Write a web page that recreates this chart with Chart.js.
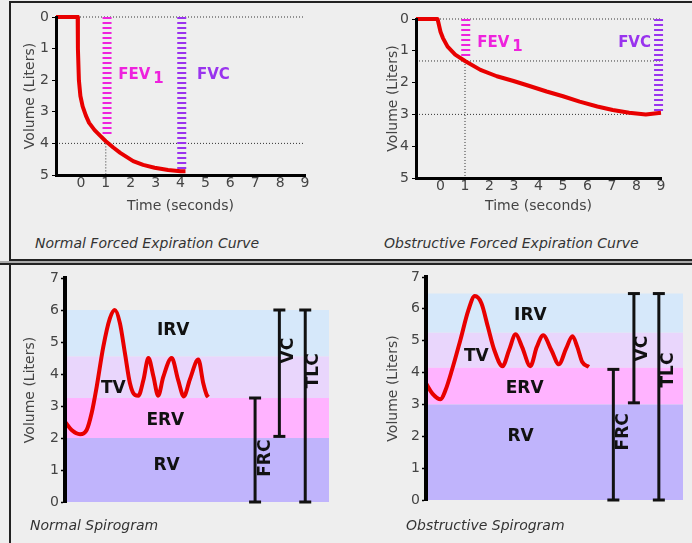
<!DOCTYPE html>
<html>
<head>
<meta charset="utf-8">
<script src="https://cdn.jsdelivr.net/npm/chart.js@4.4.0/dist/chart.umd.min.js"></script>
<style>
  html, body { margin: 0; padding: 0; }
  body { width: 692px; height: 543px; background: #eeeeee; position: relative; overflow: hidden; font-family: "DejaVu Sans", sans-serif; }
  canvas { position: absolute; }
  .cap { position: absolute; font-style: italic; font-size: 14px; color: #333; white-space: nowrap; line-height: 17px; }
  .rule { position: absolute; background: #222; }
</style>
</head>
<body>
<div class="rule" style="left:9px;top:1px;width:683px;height:2px"></div>
<div class="rule" style="left:9px;top:1px;width:2px;height:259px"></div>
<div class="rule" style="left:9px;top:259px;width:683px;height:2px"></div>
<div style="position:absolute;left:0;top:261px;width:692px;height:2px;background:#aaa"></div>
<div class="rule" style="left:0;top:263px;width:692px;height:2px"></div>
<div class="rule" style="left:9px;top:265px;width:2px;height:278px"></div>

<canvas id="normCurve" width="346" height="220" style="left:0;top:0"></canvas>
<canvas id="obsCurve" width="346" height="220" style="left:346px;top:0"></canvas>
<canvas id="normSpiro" width="346" height="277" style="left:0;top:266px"></canvas>
<canvas id="obsSpiro" width="346" height="277" style="left:346px;top:266px"></canvas>

<div class="cap" style="left:35px;top:235px">Normal Forced Expiration Curve</div>
<div class="cap" style="left:384px;top:235px">Obstructive Forced Expiration Curve</div>
<div class="cap" style="left:30px;top:517px">Normal Spirogram</div>
<div class="cap" style="left:406px;top:517px">Obstructive Spirogram</div>

<script>
// ---- forced expiration curves (time in s, volume expired in L)
const normTime = [-1, -0.13, -0.12, -0.08, -0.02, 0.07, 0.2, 0.33, 0.55, 0.79, 1.0, 1.3, 1.58, 2.1, 2.5, 2.96, 3.5, 4.0, 4.2];
const normVol  = [0, 0, 1.0, 2.0, 2.5, 2.83, 3.12, 3.35, 3.58, 3.77, 3.93, 4.13, 4.3, 4.56, 4.68, 4.77, 4.84, 4.88, 4.88];
const obsTime  = [-1, -0.12, 0.0, 0.1, 0.29, 0.6, 1.0, 1.63, 2.3, 2.98, 3.6, 4.33, 5.0, 5.68, 6.4, 7.03, 7.7, 8.38, 9.0];
const obsVol   = [0, 0, 0.4, 0.6, 0.87, 1.12, 1.32, 1.6, 1.8, 1.95, 2.1, 2.28, 2.43, 2.6, 2.75, 2.86, 2.95, 3.0, 2.95];

// FEV1 / FVC markers: time, volume reached
const normMarkTime = [1.05, 4.05];
const normMarkVol  = [3.8, 4.9];
const obsMarkTime  = [1.03, 8.9];
const obsMarkVol   = [1.2, 2.9];

// dotted guides
const normGuideX = [[-1, 9], [-1, 9], [1, 1]];
const normGuideY = [[0, 0], [4, 4], [4, 5]];
const obsGuideX  = [[-1, 9], [-1, 9], [-1, 9], [1, 1]];
const obsGuideY  = [[0, 0], [1.32, 1.32], [3, 3], [1.32, 5]];

// ---- spirograms (arbitrary time, volume in L)
const normSpiroT = [0, 2.5, 5.7, 8.2, 10.1, 12, 14.5, 17, 18.9, 20.8, 22.7, 24.6, 26.5, 27.8, 29.7, 31.6, 33.5, 35.3, 37.2, 40.4, 42.9, 45, 47.3, 50.5, 52.4, 53.7, 54.3];
const normSpiroV = [2.51, 2.25, 2.12, 2.25, 2.78, 3.6, 4.85, 5.74, 6.0, 5.59, 4.65, 3.71, 3.34, 3.32, 3.81, 4.5, 3.92, 3.32, 3.9, 4.5, 3.8, 3.3, 3.83, 4.45, 3.7, 3.34, 3.28];
const obsSpiroT  = [0, 2.5, 5.7, 7.6, 10.1, 13.3, 16.5, 19, 21.6, 24.1, 26.6, 29.8, 32.3, 34.9, 37.4, 40.6, 43.1, 45.6, 48.8, 51.7, 54.5, 57, 58.9, 60.8, 63.4];
const obsSpiroV  = [3.66, 3.34, 3.16, 3.45, 4.08, 5.0, 5.96, 6.4, 6.17, 5.43, 4.7, 4.2, 4.7, 5.2, 4.8, 4.2, 4.8, 5.17, 4.7, 4.26, 4.75, 5.14, 4.8, 4.33, 4.18];

// lung volume bands: RV, ERV, TV, IRV (upper limits)
const bandNames    = ['RV', 'ERV', 'TV', 'IRV'];
const normBandTops = [2.0, 3.25, 4.55, 6.0];
const obsBandTops  = [3.0, 4.15, 5.25, 6.48];

// capacity brackets: FRC, VC, TLC
const capNames    = ['FRC', 'VC', 'TLC'];
const normCapX    = [72, 81.2, 91];
const normCapLow  = [0, 2.05, 0];
const normCapHigh = [3.25, 6.0, 6.0];
const obsCapX     = [72.9, 80.9, 90.6];
const obsCapLow   = [0, 3.05, 0];
const obsCapHigh  = [4.1, 6.48, 6.48];

// label anchors
const normBandLabelX = [38.5, 38, 18.3, 41];
const normBandLabelY = [1.15, 2.55, 3.55, 5.37];
const obsBandLabelX  = [36.8, 38.4, 19.6, 40.6];
const obsBandLabelY  = [1.98, 3.5, 4.49, 5.8];
const normCapLabelX  = [75.8, 84.5, 94.3];
const normCapLabelY  = [1.37, 4.73, 4.1];
const obsCapLabelX   = [76.7, 84.3, 94.4];
const obsCapLabelY   = [2.14, 4.75, 4.08];

const RED = '#e80000';
const FEV_COLOR = '#ee22dd';
const FVC_COLOR = '#9933ee';
const bandColors = ['#c0b4fc', '#ffb3ff', '#e9d6fc', '#d6e8fa'];

const pts = (xs, ys) => xs.map((x, i) => ({x: x, y: ys[i]}));

const markPlugin = {
  id: 'marks',
  afterDatasetsDraw(chart, args, opts) {
    const ctx = chart.ctx;
    const xs = chart.scales.x, ys = chart.scales.y;
    (opts.items || []).forEach(m => {
      ctx.save();
      ctx.font = m.font;
      ctx.fillStyle = m.color;
      ctx.textAlign = m.align || 'center';
      ctx.textBaseline = 'middle';
      ctx.translate(xs.getPixelForValue(m.x), ys.getPixelForValue(m.y));
      if (m.rotate) ctx.rotate(-Math.PI / 2);
      ctx.fillText(m.text, 0, 0);
      if (m.sub) {
        const w = ctx.measureText(m.text).width;
        ctx.textAlign = 'left';
        ctx.fillText(m.sub, m.align === 'left' ? w + 3 : w / 2 + 3, 4);
      }
      ctx.restore();
    });
  }
};

function guideSets(gx, gy) {
  return gx.map((xs, i) => ({
    data: pts(xs, gy[i]), borderColor: '#333', borderWidth: 1, borderDash: [1, 2],
    pointRadius: 0, clip: false, order: 3
  }));
}

function markSets(mt, mv) {
  const colors = [FEV_COLOR, FVC_COLOR];
  return mt.map((t, i) => ({
    data: [{x: t, y: 0}, {x: t, y: mv[i]}], borderColor: colors[i], borderWidth: 9,
    borderDash: [2, 3], borderCapStyle: 'butt', pointRadius: 0, clip: false, order: 2
  }));
}

function curveChart(id, t, v, mt, mv, gx, gy, lay, labels) {
  new Chart(document.getElementById(id), {
    type: 'line',
    data: {
      datasets: [
        {data: pts(t, v), borderColor: RED, borderWidth: 4, pointRadius: 0, tension: 0,
         borderJoinStyle: 'round', clip: false, order: 0}
      ].concat(markSets(mt, mv), guideSets(gx, gy))
    },
    options: {
      responsive: false, animation: false, events: [],
      layout: {padding: {left: lay.left, top: lay.top, right: lay.right, bottom: 0}},
      plugins: {legend: {display: false}, tooltip: {enabled: false}, marks: {items: labels}},
      scales: {
        x: {
          type: 'linear', min: -1, max: 9,
          afterFit: s => { s.height = lay.xh; },
          ticks: {stepSize: 1, autoSkip: false, maxRotation: 0, padding: 0, color: '#444',
                  font: {size: 14, family: 'DejaVu Sans'}, callback: val => (val < 0 ? '' : val)},
          grid: {display: false, drawTicks: false},
          border: {color: '#000', width: 3, z: 1},
          title: {display: true, text: 'Time (seconds)', color: '#444',
                  font: {size: 14, family: 'DejaVu Sans'}, padding: {top: 0, bottom: 5}}
        },
        y: {
          type: 'linear', min: 0, max: 5, reverse: true,
          afterFit: s => { s.width = lay.yw; },
          ticks: {stepSize: 1, padding: 3, color: '#444', font: {size: 14, family: 'DejaVu Sans'}},
          grid: {display: true, drawOnChartArea: false, drawTicks: true, tickLength: 4, color: '#000', tickWidth: 1},
          border: {color: '#000', width: 3, z: 1},
          title: {display: true, text: 'Volume (Liters)', color: '#444',
                  font: {size: 14, family: 'DejaVu Sans'}, padding: {top: 2, bottom: 0}}
        }
      }
    },
    plugins: [markPlugin]
  });
}

function spiroChart(id, t, v, tops, cx, clo, chi, lay, labels) {
  const bands = tops.map((top, i) => ({
    data: [{x: 0, y: top}, {x: 100, y: top}], borderWidth: 0, pointRadius: 0,
    backgroundColor: bandColors[i], fill: {value: i === 0 ? 0 : tops[i - 1]}, order: 10
  }));
  const caps = cx.map((x, i) => ({
    data: [{x: x, y: clo[i]}, {x: x, y: chi[i]}], borderColor: '#111', borderWidth: 3,
    pointStyle: 'line', pointRadius: 6, pointBorderWidth: 3, pointBorderColor: '#111',
    clip: false, order: 1
  }));
  new Chart(document.getElementById(id), {
    type: 'line',
    data: {
      datasets: [
        {data: pts(t, v), borderColor: RED, borderWidth: 4, pointRadius: 0,
         cubicInterpolationMode: 'monotone', borderJoinStyle: 'round', clip: false, order: 0}
      ].concat(caps, bands)
    },
    options: {
      responsive: false, animation: false, events: [],
      layout: {padding: {left: lay.left, top: lay.top, right: lay.right, bottom: lay.bottom}},
      plugins: {legend: {display: false}, tooltip: {enabled: false}, marks: {items: labels}},
      scales: {
        x: {type: 'linear', min: 0, max: 100, display: false},
        y: {
          type: 'linear', min: 0, max: 7,
          afterFit: s => { s.width = lay.yw; },
          ticks: {stepSize: 1, padding: 2, color: '#444', font: {size: 14, family: 'DejaVu Sans'}},
          grid: {display: true, drawOnChartArea: false, drawTicks: true, tickLength: 4, color: '#000', tickWidth: 1.5},
          border: {color: '#000', width: 4, z: 1},
          title: {display: true, text: 'Volume (Liters)', color: '#444',
                  font: {size: 14, family: 'DejaVu Sans'}, padding: {top: 2, bottom: 0}}
        }
      }
    },
    plugins: [markPlugin]
  });
}

const markFont = 'bold 15px "DejaVu Sans"';
const labelFont = 'bold 17px "DejaVu Sans"';

function spiroLabels(bx, by, cx, cy) {
  return bandNames.map((n, i) => ({text: n, x: bx[i], y: by[i], color: '#111', font: labelFont}))
    .concat(capNames.map((n, i) => ({text: n, x: cx[i], y: cy[i], color: '#111', font: labelFont, rotate: true})));
}

curveChart('normCurve', normTime, normVol, normMarkTime, normMarkVol, normGuideX, normGuideY,
  {left: 20, top: 17, right: 41, yw: 36, xh: 45},
  [{text: 'FEV', sub: '1', x: 1.5, y: 1.83, color: FEV_COLOR, font: markFont, align: 'left'},
   {text: 'FVC', x: 4.66, y: 1.83, color: FVC_COLOR, font: markFont, align: 'left'}]);

curveChart('obsCurve', obsTime, obsVol, obsMarkTime, obsMarkVol, obsGuideX, obsGuideY,
  {left: 37, top: 19, right: 31, yw: 33, xh: 42},
  [{text: 'FEV', sub: '1', x: 1.5, y: 0.75, color: FEV_COLOR, font: markFont, align: 'left'},
   {text: 'FVC', x: 7.25, y: 0.75, color: FVC_COLOR, font: markFont, align: 'left'}]);

spiroChart('normSpiro', normSpiroT, normSpiroV, normBandTops, normCapX, normCapLow, normCapHigh,
  {left: 20, top: 12, right: 17, bottom: 41, yw: 45},
  spiroLabels(normBandLabelX, normBandLabelY, normCapLabelX, normCapLabelY));

spiroChart('obsSpiro', obsSpiroT, obsSpiroV, obsBandTops, obsCapX, obsCapLow, obsCapHigh,
  {left: 37, top: 11, right: 3, bottom: 43, yw: 43},
  spiroLabels(obsBandLabelX, obsBandLabelY, obsCapLabelX, obsCapLabelY));
</script>
</body>
</html>
